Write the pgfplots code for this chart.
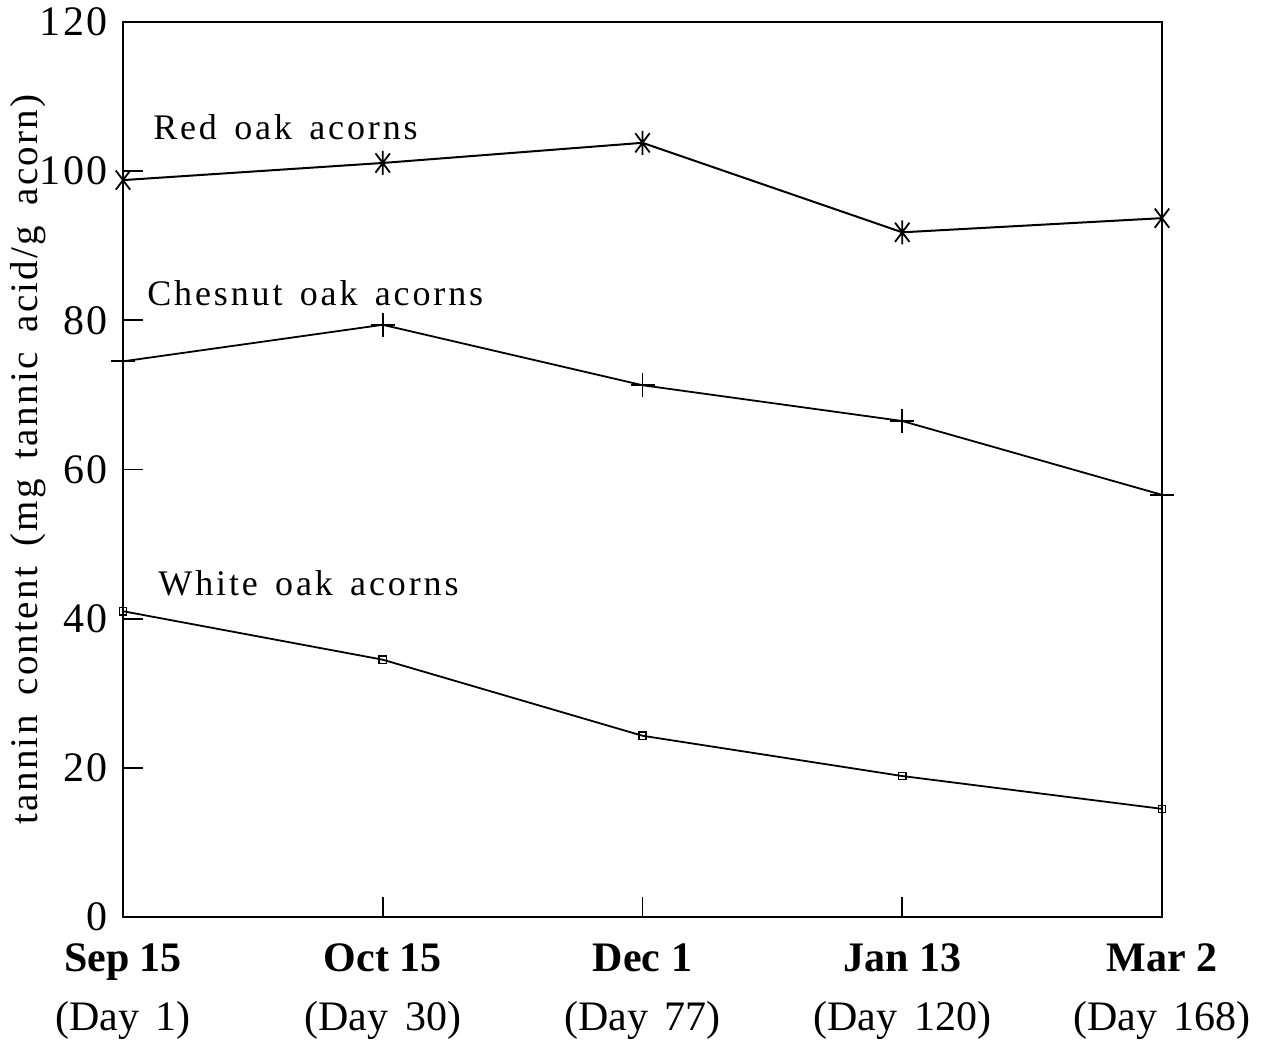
\documentclass[border=0pt]{standalone}
\usepackage{fontspec}
\setmainfont{Liberation Serif}
\newfontfamily\spaced[LetterSpace=8]{Liberation Serif}
\newfontfamily\ylspaced[LetterSpace=6]{Liberation Serif}
\newfontfamily\tickspaced[LetterSpace=6]{Liberation Serif}
\usepackage{pgfplots}
\pgfplotsset{compat=1.18}
\pgfdeclareplotmark{vx}{%
  \pgfpathmoveto{\pgfqpoint{0pt}{\pgfplotmarksize}}%
  \pgfpathlineto{\pgfqpoint{0pt}{-\pgfplotmarksize}}%
  \pgfpathmoveto{\pgfqpoint{0.6\pgfplotmarksize}{0.8\pgfplotmarksize}}%
  \pgfpathlineto{\pgfqpoint{-0.6\pgfplotmarksize}{-0.8\pgfplotmarksize}}%
  \pgfpathmoveto{\pgfqpoint{-0.6\pgfplotmarksize}{0.8\pgfplotmarksize}}%
  \pgfpathlineto{\pgfqpoint{0.6\pgfplotmarksize}{-0.8\pgfplotmarksize}}%
  \pgfusepathqstroke}
\begin{document}
\begin{tikzpicture}
\begin{axis}[name=ax, scale only axis, width=519.5bp, height=447.5bp,
  xmin=0, xmax=4, ymin=0, ymax=120,
  xtick={0,1,2,3,4}, ytick={0,20,40,60,80,100,120},
  xticklabels={
    {\textbf{Sep 15}\\(Day\hspace{0.4em}1)},
    {\textbf{Oct 15}\\(Day\hspace{0.4em}30)},
    {\textbf{Dec 1}\\(Day\hspace{0.4em}77)},
    {\textbf{Jan 13}\\(Day\hspace{0.4em}120)},
    {\textbf{Mar 2}\\(Day\hspace{0.4em}168)}},
  tick align=inside, xtick pos=bottom, ytick pos=left,
  major tick length=10bp,
  axis line style={line width=1.3bp},
  tick style={line width=0.9bp, black},
  /pgf/number format/assume math mode=true,
  yticklabel style={font=\fontsize{21bp}{25bp}\tickspaced, xshift=-4bp},
  xticklabel style={align=center, font=\fontsize{21bp}{29.5bp}\selectfont, yshift=-10bp},
  ylabel={tannin\hspace{0.2em} content\hspace{0.2em} (mg\hspace{0.2em} tannic\hspace{0.2em} acid/g\hspace{0.2em} acorn)},
  ylabel style={at={(axis description cs:0,0.5)}, anchor=center, yshift=47.5bp, xshift=5bp, font=\fontsize{19.5bp}{22bp}\ylspaced},
  clip=false]
\addplot[black, line width=1bp, mark=vx, mark size=6bp, mark options={line width=0.9bp}]
  coordinates {(0,98.8) (1,101.1) (2,103.8) (3,91.8) (4,93.7)};
\addplot[black, line width=0.9bp, mark=+, mark size=6bp, mark options={line width=0.9bp}]
  coordinates {(0,74.5) (1,79.4) (2,71.3) (3,66.5) (4,56.6)};
\addplot[black, line width=0.9bp, mark=square, mark size=1.8bp, mark options={line width=0.7bp}]
  coordinates {(0,41.0) (1,34.5) (2,24.3) (3,18.9) (4,14.5)};
\node[anchor=west, inner sep=0pt, font=\fontsize{18bp}{21bp}\spaced] at (axis cs:0.115,105.9) {Red\hspace{0.15em} oak\hspace{0.15em} acorns};
\node[anchor=west, inner sep=0pt, font=\fontsize{18bp}{21bp}\spaced] at (axis cs:0.092,83.7) {Chesnut\hspace{0.15em} oak\hspace{0.15em} acorns};
\node[anchor=west, inner sep=0pt, font=\fontsize{18bp}{21bp}\spaced] at (axis cs:0.135,44.8) {White\hspace{0.15em} oak\hspace{0.15em} acorns};
\end{axis}
\pgfresetboundingbox
\path ([shift={(-61.5bp,-63bp)}]ax.south west) rectangle ([shift={(51.5bp,11bp)}]ax.north east);
\end{tikzpicture}
\end{document}
